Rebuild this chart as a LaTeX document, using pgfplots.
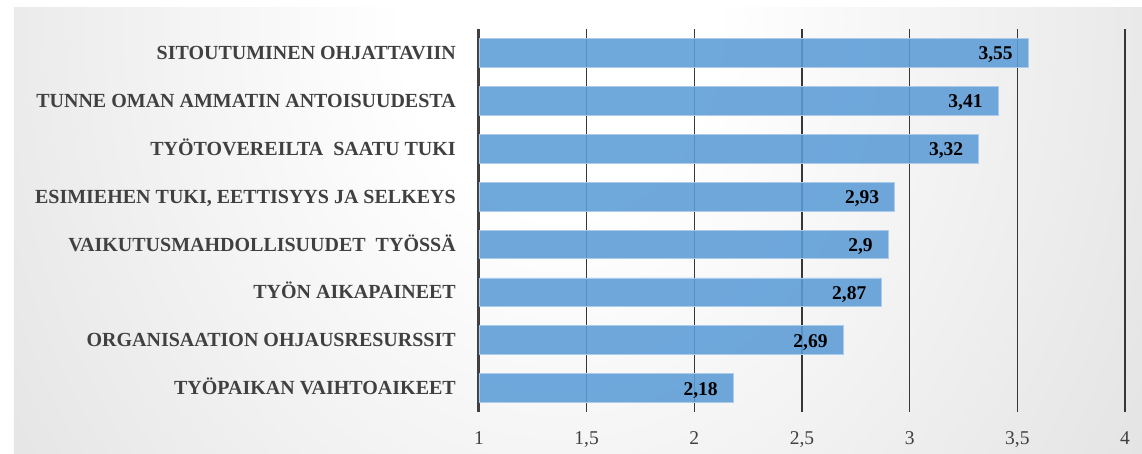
\documentclass[border=0pt]{standalone}
\usepackage{pgfplots}
\pgfplotsset{compat=1.18}
\usepackage{pgfplotstable}
\usepackage{fontspec}
\setmainfont{Liberation Serif}
\definecolor{bggray}{RGB}{196,196,196}
\definecolor{barblue}{RGB}{92,156,215}
\definecolor{baredge}{RGB}{172,203,234}
\definecolor{labgray}{RGB}{64,64,64}
\definecolor{gridc}{RGB}{55,55,55}
\pgfdeclareradialshading{bgshade}{\pgfpointorigin}{color(0bp)=(white); color(6bp)=(white); color(50bp)=(bggray); color(100bp)=(bggray)}

\pgfplotstableread{
y x lab
0 2.18 2,18
1 2.69 2,69
2 2.87 2,87
3 2.90 2,9
4 2.93 2,93
5 3.32 3,32
6 3.41 3,41
7 3.55 3,55
}\data

\begin{document}
\begin{tikzpicture}[x=1pt,y=1pt]
\fill[white] (-479,-42) rectangle (663,412);
\begin{scope}
\clip (-465,-42) rectangle (663,404);
\shade[shading=bgshade] (-569,-408) rectangle (731,1192);
\end{scope}
\begin{axis}[
 at={(0,0)}, anchor=south west, scale only axis,
 width=646pt, height=383pt,
 xmin=1, xmax=4, ymin=-0.5, ymax=7.5,
 xbar, bar width=28.7pt,
 axis line style={draw=none},
 xtick={1,1.5,2,2.5,3,3.5,4},
 ytick={0,...,7},
 yticklabels={
  TYÖPAIKAN VAIHTOAIKEET,
  ORGANISAATION OHJAUSRESURSSIT\hspace{8pt},
  TYÖN AIKAPAINEET,
  VAIKUTUSMAHDOLLISUUDET\ \ TYÖSSÄ,
  {ESIMIEHEN TUKI, EETTISYYS JA SELKEYS},
  TYÖTOVEREILTA\ \ SAATU TUKI,
  TUNNE OMAN AMMATIN ANTOISUUDESTA\hspace{3pt},
  SITOUTUMINEN OHJATTAVIIN},
 major tick length=0pt,
 xmajorgrids, major grid style={gridc, line width=1.3pt},
 extra x ticks={1}, extra x tick labels={},
 extra x tick style={grid=major, major grid style={labgray, line width=3pt}},
 /pgf/number format/assume math mode=true,
 /pgf/number format/use comma,
 xticklabel style={font=\fontsize{19.5}{22}\selectfont, text=labgray, anchor=base, yshift=-33pt},
 yticklabel style={font=\fontsize{20}{24}\selectfont\bfseries, text=labgray, anchor=base east, inner sep=0pt, xshift=-23pt, yshift=-6.6pt},
 nodes near coords, point meta=explicit symbolic,
 every node near coord/.append style={font=\fontsize{19.5}{22}\selectfont\bfseries, text=black, text opacity=1, anchor=base east, inner sep=0pt, xshift=-15pt, yshift=-7pt},
]
\addplot[fill=barblue, fill opacity=0.88, draw=baredge, line width=0.8pt] table[x=x,y=y,meta=lab]{\data};
\end{axis}
\end{tikzpicture}
\end{document}
